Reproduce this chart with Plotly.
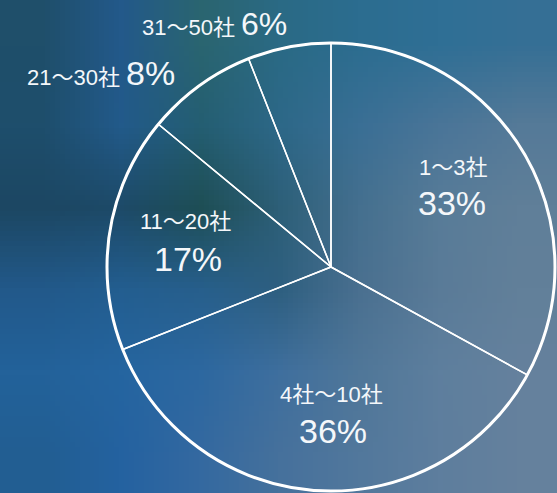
import base64
import struct
import zlib

import plotly.graph_objects as go

# ---- data ----
labels = ["1～3社", "4社～10社", "11～20社", "21～30社", "31～50社"]
values = [33, 36, 17, 8, 6]

W, H = 557, 493

# ---- blurred photographic background (coarse colour grid, stretched by the browser) ----
bg_rows = [
    ["#1f4f6a", "#23598a", "#2a6570", "#2a6a85", "#2c6d90", "#2f6f95", "#356f95"],
    ["#1e4e6c", "#225a8a", "#245e72", "#2d6888", "#3a6f95", "#4a7598", "#557a98"],
    ["#1c4763", "#1d4a68", "#1e4e55", "#2d5f78", "#45708f", "#587c98", "#607f99"],
    ["#22598a", "#235e90", "#275f8c", "#2e5f80", "#4a7090", "#5a7b98", "#62809a"],
    ["#23629a", "#2565a0", "#2d68a0", "#3f6f9e", "#507799", "#5e7f9e", "#65819d"],
    ["#225e92", "#2462a0", "#3469a0", "#46719c", "#52789c", "#5e7e9e", "#65819d"],
]


def png_data_uri(rows):
    h = len(rows)
    w = len(rows[0])
    raw = b""
    for r in rows:
        raw += b"\x00" + b"".join(bytes.fromhex(c[1:]) for c in r)

    def chunk(tag, data):
        c = struct.pack(">I", len(data)) + tag + data
        return c + struct.pack(">I", zlib.crc32(tag + data) & 0xFFFFFFFF)

    png = b"\x89PNG\r\n\x1a\n"
    png += chunk(b"IHDR", struct.pack(">IIBBBBB", w, h, 8, 2, 0, 0, 0))
    png += chunk(b"IDAT", zlib.compress(raw))
    png += chunk(b"IEND", b"")
    return "data:image/png;base64," + base64.b64encode(png).decode()


# pie geometry (pixels)
cx, cy, R = 331, 267, 224
dom_x = [(cx - R) / W, (cx + R) / W]
dom_y = [1 - (cy + R) / H, 1 - (cy - R) / H]

fig = go.Figure()
fig.add_trace(
    go.Pie(
        labels=labels,
        values=values,
        sort=False,
        direction="clockwise",
        rotation=0,
        textinfo="none",
        hoverinfo="skip",
        showlegend=False,
        marker=dict(
            colors=["rgba(0,0,0,0)"] * len(values),
            line=dict(color="white", width=1.5),
        ),
        domain=dict(x=dom_x, y=dom_y),
    )
)

# outer ring (thicker)
fig.add_shape(
    type="circle", xref="paper", yref="paper",
    x0=dom_x[0], x1=dom_x[1], y0=dom_y[0], y1=dom_y[1],
    line=dict(color="white", width=3),
)

font_family = "Liberation Sans, Noto Sans CJK JP, sans-serif"
small, big = 22, 34
txt_color = "#f4f7fa"


def add_text(x, y, text, size):
    fig.add_annotation(
        x=x / W, y=1 - y / H, xref="paper", yref="paper",
        text=text, showarrow=False, xanchor="center", yanchor="middle",
        font=dict(family=font_family, size=size, color=txt_color),
    )


# label positions (pixel centres): (label centre, percent centre)
two_line_pos = {0: ((453, 167), (452, 203)),
                1: ((331, 394), (333, 431)),
                2: ((185, 221), (188, 259))}
one_line_pos = {3: (101, 73), 4: (214, 24)}

for i, (lab, val) in enumerate(zip(labels, values)):
    if i in two_line_pos:
        (lx, ly), (px, py) = two_line_pos[i]
        add_text(lx, ly, lab, small)
        add_text(px, py, f"{val}%", big)
    else:
        x, y = one_line_pos[i]
        size = big - 2 if i == 4 else big
        add_text(x, y, f"{lab} <span style='font-size:{size}px'>{val}%</span>", small)

fig.update_layout(
    width=W, height=H,
    margin=dict(l=0, r=0, t=0, b=0),
    paper_bgcolor="#2a5f85",
    plot_bgcolor="rgba(0,0,0,0)",
    images=[dict(
        source=png_data_uri(bg_rows), xref="paper", yref="paper",
        x=0, y=1, sizex=1, sizey=1, xanchor="left", yanchor="top",
        sizing="stretch", layer="below",
    )],
)

fig.write_html(
    "out.html",
    config={"displayModeBar": False},
    post_script="document.body.style.margin='0';document.body.style.overflow='hidden';",
)
